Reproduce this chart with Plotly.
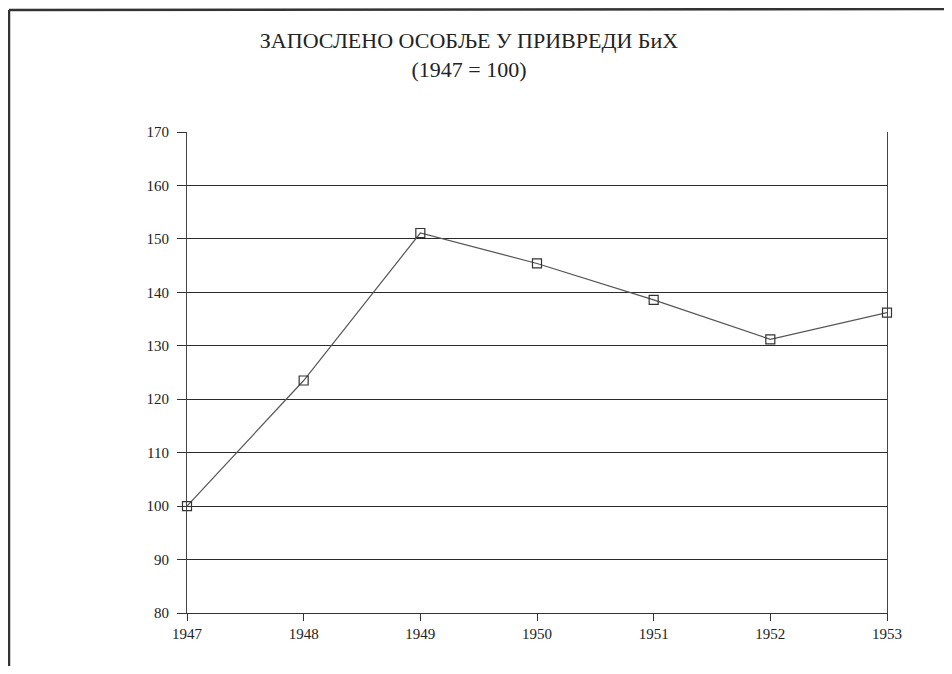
import plotly.graph_objects as go

years = [1947, 1948, 1949, 1950, 1951, 1952, 1953]
index_values = [100, 123.5, 151.1, 145.4, 138.6, 131.2, 136.2]
y_ticks = [80, 90, 100, 110, 120, 130, 140, 150, 160, 170]

title_line1 = "ЗАПОСЛЕНО ОСОБЉЕ У ПРИВРЕДИ БиХ"
title_line2 = "(1947 = 100)"

W, H = 936, 658
L, R, T, B = 179, 57, 124, 53
PW, PH = W - L - R, H - T - B

fig = go.Figure()
fig.add_trace(go.Scatter(
    x=years, y=index_values, mode="lines+markers",
    line=dict(color="#555555", width=1.2),
    marker=dict(symbol="square-open", size=9, color="#333333", line=dict(width=1.2)),
    showlegend=False, cliponaxis=False,
))

serif = "Liberation Serif, Times New Roman, serif"

fig.update_layout(
    width=W, height=H,
    margin=dict(l=L, r=R, t=T, b=B),
    paper_bgcolor="white", plot_bgcolor="white",
    font=dict(family=serif, color="#222222"),
    title=dict(
        text=title_line1 + "<br>" + title_line2,
        x=461 / W, xref="container", xanchor="center",
        y=1 - 40 / H, yref="container", yanchor="top",
        font=dict(family=serif, size=22, color="#222222"),
    ),
    xaxis=dict(
        range=[1947, 1953], tickvals=years, ticktext=[str(y) for y in years],
        showgrid=False, zeroline=False,
        showline=True, linecolor="#333333", linewidth=1.3,
        ticks="outside", ticklen=7, tickcolor="#333333", tickwidth=1.2,
        tickfont=dict(family=serif, size=15, color="#222222"),
        ticklabelstandoff=0,
    ),
    yaxis=dict(
        range=[80, 170], tickvals=y_ticks,
        showgrid=True, gridcolor="#2a2a2a", gridwidth=1.4,
        zeroline=False,
        showline=True, mirror=True, linecolor="#444444", linewidth=1.2,
        ticks="outside", ticklen=9, tickcolor="#333333", tickwidth=1.2,
        tickfont=dict(family=serif, size=15, color="#222222"),
        ticklabelstandoff=5,
    ),
    shapes=[
        dict(type="line", xref="paper", yref="paper",
             x0=(1 - L) / PW, x1=(W - L) / PW, y0=1 + (T - 2) / PH, y1=1 + (T - 1) / PH,
             line=dict(color="#333333", width=2.5)),
        dict(type="line", xref="paper", yref="paper",
             x0=(1 - L) / PW, x1=(1 - L) / PW, y0=1 + (T - 2) / PH, y1=-B / PH,
             line=dict(color="#333333", width=2.5)),
    ],
)

fig.write_html("out.html")
